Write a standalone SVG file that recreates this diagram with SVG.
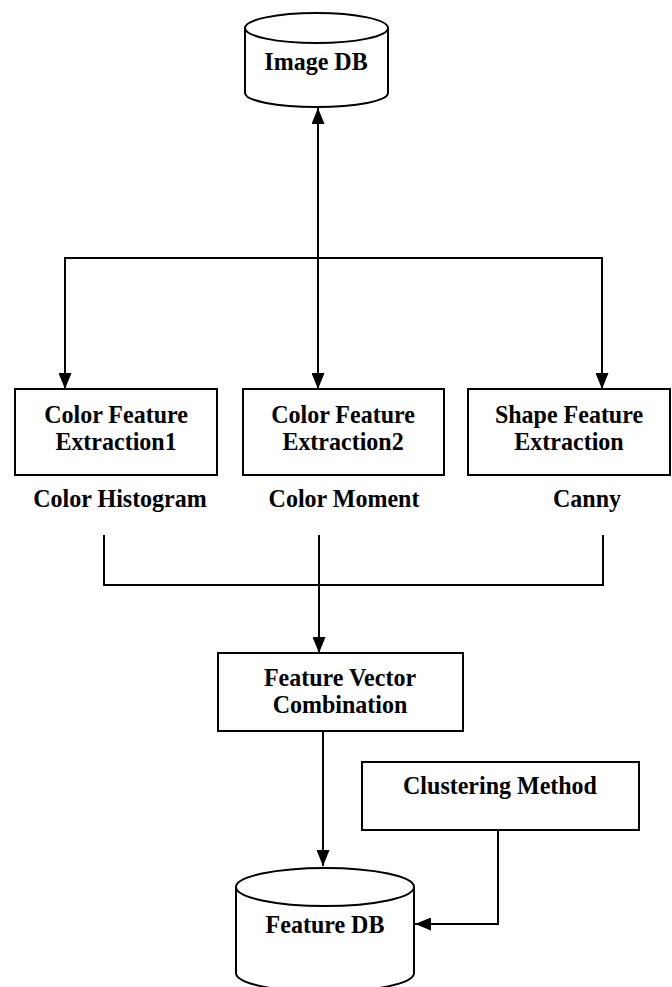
<svg xmlns="http://www.w3.org/2000/svg" width="672" height="987" viewBox="0 0 672 987">
<style>
.s{fill:none;stroke:#000;stroke-width:2}
.b{fill:#fff;stroke:#000;stroke-width:2}
.t{font-family:"Liberation Serif","Times New Roman",serif;font-weight:bold;font-size:24px;fill:#000;text-anchor:middle}
</style>
<defs>
<marker id="ah" viewBox="0 0 16 13" refX="16" refY="6.5" markerWidth="16" markerHeight="13" markerUnits="userSpaceOnUse" orient="auto-start-reverse">
<path d="M0,0 L16,6.5 L0,13 Z" fill="#000"/>
</marker>
</defs>
<rect width="672" height="987" fill="#fff"/>
<g id="connectors">
<line class="s" x1="318" y1="108" x2="318" y2="389" marker-start="url(#ah)" marker-end="url(#ah)"/>
<polyline class="s" points="65,389 65,258 602,258 602,389" marker-start="url(#ah)" marker-end="url(#ah)"/>
<polyline class="s" points="104,535 104,585 603,585 603,535"/>
<line class="s" x1="319" y1="535" x2="319" y2="653" marker-end="url(#ah)"/>
<line class="s" x1="323" y1="731" x2="323" y2="866" marker-end="url(#ah)"/>
<polyline class="s" points="498,830 498,924 415,924" marker-end="url(#ah)"/>
</g>
<g id="image-db">
<path class="b" d="M245,28 L245,93 A71.5,14 0 0 0 388,93 L388,28"/>
<ellipse class="b" cx="316.5" cy="28" rx="71.5" ry="15"/>
<text class="t" transform="translate(316,70) scale(1,1.07)">Image DB</text>
</g>
<g id="cfe1">
<rect class="b" x="15" y="389" width="202" height="86"/>
<text class="t" transform="translate(116,423) scale(1,1.07)">Color Feature</text>
<text class="t" transform="translate(116,450) scale(1,1.07)">Extraction1</text>
<text class="t" transform="translate(120,507) scale(1,1.07)">Color Histogram</text>
</g>
<g id="cfe2">
<rect class="b" x="243" y="389" width="201" height="86"/>
<text class="t" transform="translate(343,423) scale(1,1.07)">Color Feature</text>
<text class="t" transform="translate(343,450) scale(1,1.07)">Extraction2</text>
<text class="t" transform="translate(344,507) scale(1,1.07)">Color Moment</text>
</g>
<g id="sfe">
<rect class="b" x="468" y="389" width="202" height="86"/>
<text class="t" transform="translate(569,423) scale(1,1.07)">Shape Feature</text>
<text class="t" transform="translate(569,450) scale(1,1.07)">Extraction</text>
<text class="t" transform="translate(587,507) scale(1,1.07)">Canny</text>
</g>
<g id="fvc">
<rect class="b" x="218" y="653" width="245" height="78"/>
<text class="t" transform="translate(340,686) scale(1,1.07)">Feature Vector</text>
<text class="t" transform="translate(340,713) scale(1,1.07)">Combination</text>
</g>
<g id="cluster">
<rect class="b" x="362" y="762" width="277" height="68"/>
<text class="t" transform="translate(500,794) scale(1,1.07)">Clustering Method</text>
</g>
<g id="feature-db">
<path class="b" d="M236,887 L236,973 A89,19 0 0 0 414,973 L414,887"/>
<ellipse class="b" cx="325" cy="887" rx="89" ry="19"/>
<text class="t" transform="translate(325,933) scale(1,1.07)">Feature DB</text>
</g>
</svg>
